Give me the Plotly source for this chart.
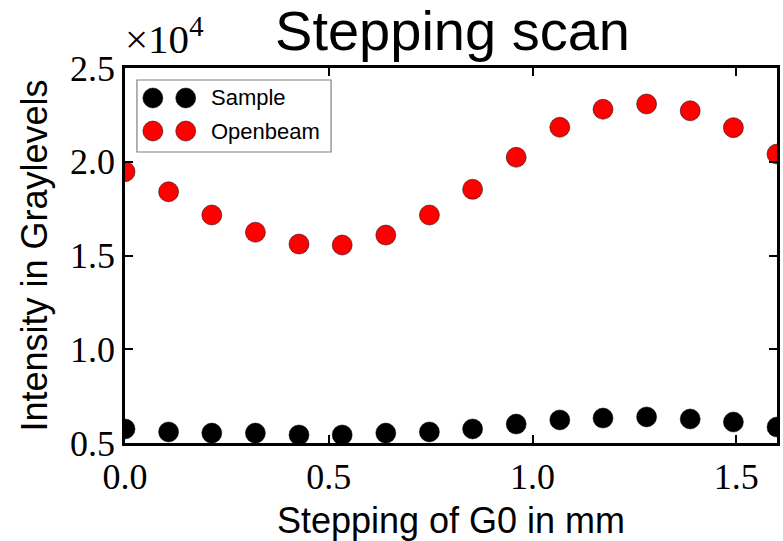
import plotly.graph_objects as go

# Grating G0 stepping positions (mm)
step_mm = [0.0, 0.107, 0.213, 0.32, 0.427, 0.533, 0.64, 0.747,
           0.853, 0.96, 1.067, 1.173, 1.28, 1.387, 1.493, 1.6]

# Mean intensity (gray levels) at each step
sample = [5750, 5590, 5530, 5530, 5430, 5430, 5530, 5590,
          5750, 6010, 6230, 6330, 6390, 6280, 6120, 5850]
openbeam = [19470, 18400, 17160, 16240, 15610, 15560, 16090, 17160,
            18530, 20240, 21840, 22800, 23080, 22720, 21820, 20410]

series_names = ["Sample", "Openbeam"]
series_colors = ["black", "red"]

x_ticks = [0.0, 0.5, 1.0, 1.5]
x_tick_text = ["0.0", "0.5", "1.0", "1.5"]
y_ticks = [5000, 10000, 15000, 20000, 25000]
y_tick_text = ["0.5", "1.0", "1.5", "2.0", "2.5"]

W, H = 783, 541
ML, MR, MT, MB = 125, 3, 68, 98

SANS = "Liberation Sans"
SERIF = "Liberation Serif"

fig = go.Figure()
for name, vals, col in zip(series_names, [sample, openbeam], series_colors):
    fig.add_trace(go.Scatter(
        x=step_mm, y=vals, mode="markers", name=name,
        marker=dict(size=20, color=col, line=dict(color="black", width=0.5)),
        cliponaxis=True, showlegend=False,
    ))

axis_common = dict(
    showline=True, linecolor="black", linewidth=2.5, mirror="ticks",
    ticks="inside", ticklen=8, tickwidth=1.5, tickcolor="black",
    showgrid=False, zeroline=False,
    tickfont=dict(family=SERIF, size=36, color="black"),
)

fig.update_xaxes(
    range=[0, 1.6], tickvals=x_ticks, ticktext=x_tick_text,
    title=dict(text="Stepping of G0 in mm",
               font=dict(family=SANS, size=36, color="black"), standoff=12),
    **axis_common,
)
fig.update_yaxes(
    range=[5000, 25000], tickvals=y_ticks, ticktext=y_tick_text,
    title=dict(text="Intensity in Graylevels",
               font=dict(family=SANS, size=36, color="black"), standoff=12),
    **axis_common,
)

# Offset multiplier above the y axis
fig.add_annotation(
    text="×10<sup>4</sup>", xref="paper", yref="paper", x=0, y=1,
    xanchor="left", yanchor="bottom", yshift=4, xshift=-2, showarrow=False,
    font=dict(family=SERIF, size=41, color="black"),
)

# Legend box with two markers per entry
pw, ph = W - ML - MR, H - MT - MB


def px_to_paper(px, py):
    return (px - ML) / pw, 1 - (py - MT) / ph


x0p, y0p = px_to_paper(137, 80)
x1p, y1p = px_to_paper(332, 152)
fig.add_shape(type="rect", xref="paper", yref="paper",
              x0=x0p, y0=y1p, x1=x1p, y1=y0p,
              line=dict(color="#808080", width=1.2), fillcolor="white",
              layer="above")
for row_y, name, col in zip([98, 131], series_names, series_colors):
    for cx in [153, 186]:
        ax, ay = px_to_paper(cx, row_y)
        fig.add_shape(type="circle", xref="paper", yref="paper",
                      xsizemode="pixel", ysizemode="pixel",
                      xanchor=ax, yanchor=ay, x0=-10, x1=10, y0=-10, y1=10,
                      fillcolor=col, line=dict(color="black", width=0.5),
                      layer="above")
    tx, ty = px_to_paper(209, row_y)
    fig.add_annotation(text=name, xref="paper", yref="paper", x=tx, y=ty,
                       xanchor="left", yanchor="middle", showarrow=False,
                       font=dict(family=SANS, size=22, color="black"))

fig.update_layout(
    width=W, height=H,
    margin=dict(l=ML, r=MR, t=MT, b=MB),
    paper_bgcolor="white", plot_bgcolor="white",
    title=dict(text="Stepping scan", x=(ML + pw / 2) / W, xanchor="center",
               y=1 - 30 / H, yanchor="middle", yref="container",
               font=dict(family=SANS, size=56, color="black")),
    showlegend=False,
)

fig.write_html("out.html")
